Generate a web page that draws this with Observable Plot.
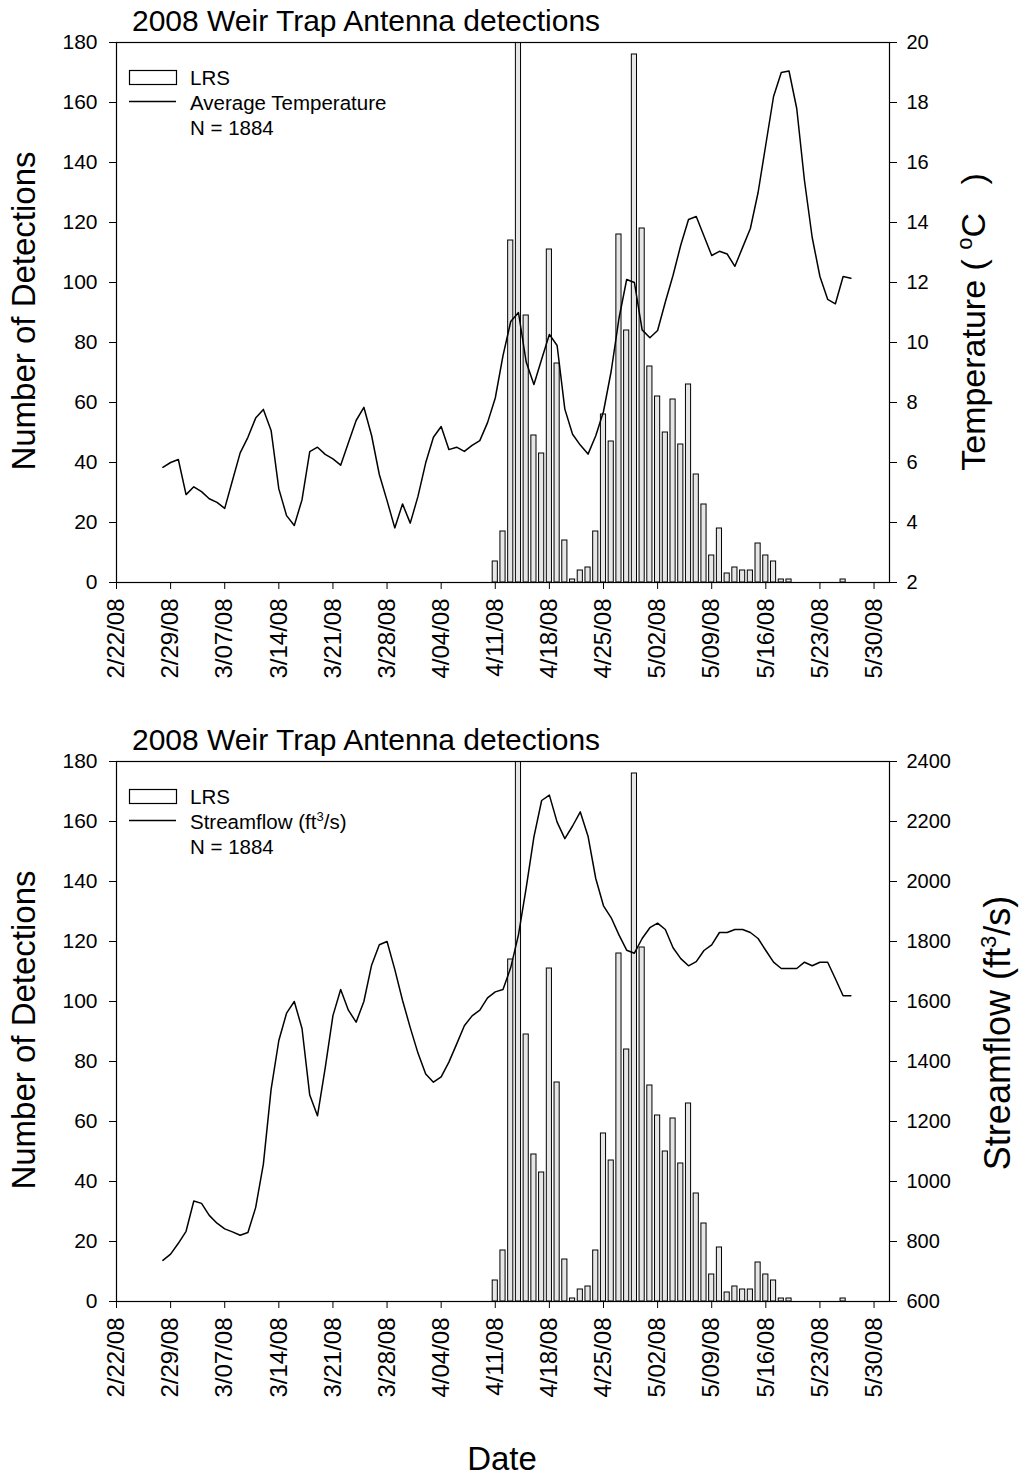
<!DOCTYPE html>
<html>
<head>
<meta charset="utf-8">
<script src="https://cdn.jsdelivr.net/npm/d3@7"></script>
<script src="https://cdn.jsdelivr.net/npm/@observablehq/plot@0.6"></script>
<style>
  body { margin: 0; background: #fff; }
  #charts svg { display: block; }
</style>
</head>
<body>
<div id="charts"></div>
<script>
// ---- data ---------------------------------------------------------------
const chartTitle = "2008 Weir Trap Antenna detections";

// Daily LRS detections at the weir trap antenna (days not listed had none)
const detectionDates = [
  "2008-04-11", "2008-04-12", "2008-04-13", "2008-04-14", "2008-04-15",
  "2008-04-16", "2008-04-17", "2008-04-18", "2008-04-19", "2008-04-20",
  "2008-04-21", "2008-04-22", "2008-04-23", "2008-04-24", "2008-04-25",
  "2008-04-26", "2008-04-27", "2008-04-28", "2008-04-29", "2008-04-30",
  "2008-05-01", "2008-05-02", "2008-05-03", "2008-05-04", "2008-05-05",
  "2008-05-06", "2008-05-07", "2008-05-08", "2008-05-09", "2008-05-10",
  "2008-05-11", "2008-05-12", "2008-05-13", "2008-05-14", "2008-05-15",
  "2008-05-16", "2008-05-17", "2008-05-18", "2008-05-19", "2008-05-26"
];
const detectionCounts = [
  7, 17, 114, 249, 89, 49, 43, 111, 73, 14,
  1, 4, 5, 17, 56, 47, 116, 84, 176, 118,
  72, 62, 50, 61, 46, 66, 36, 26, 9, 18,
  3, 5, 4, 4, 13, 9, 7, 1, 1, 1
];

// Daily series, one value per day starting on this date
const seriesStart = "2008-02-28";

// Average water temperature (°C)
const avgTemperature = [
  5.84, 6.0,
  6.1, 4.93, 5.19, 5.03, 4.79, 4.67, 4.47, 5.4, 6.32, 6.84,
  7.48, 7.77, 7.07, 5.12, 4.23, 3.9, 4.76, 6.36, 6.51, 6.27,
  6.12, 5.91, 6.66, 7.4, 7.84, 6.9, 5.6, 4.73, 3.82, 4.62, 3.98,
  4.87, 5.99, 6.84, 7.2, 6.43, 6.51, 6.37, 6.57, 6.73, 7.33,
  8.15, 9.56, 10.7, 11.0, 9.35, 8.6, 9.44, 10.27, 9.9, 7.78,
  6.94, 6.58, 6.28, 6.89, 7.7, 9.05, 10.8, 12.1, 12.0, 10.42,
  10.16, 10.4, 11.35, 12.24, 13.25, 14.1, 14.2, 13.55, 12.9, 13.04,
  12.95, 12.54, 13.17, 13.8, 15.0, 16.6, 18.2, 19.0, 19.05, 17.8,
  15.4, 13.5, 12.2, 11.44, 11.29, 12.2, 12.14
];

// Streamflow (ft³/s)
const streamflow = [
  737, 758,
  794, 834, 935, 927, 887, 861, 842, 832, 821, 830,
  913, 1058, 1307, 1470, 1561, 1600, 1510, 1288, 1219, 1379,
  1553, 1640, 1571, 1531, 1600, 1721, 1789, 1800, 1707, 1604, 1513,
  1428, 1358, 1331, 1349, 1398, 1458, 1519, 1552, 1571, 1612,
  1632, 1640, 1713, 1822, 1979, 2149, 2270, 2288, 2198, 2143,
  2185, 2232, 2151, 2010, 1919, 1879, 1822, 1771, 1761, 1810,
  1846, 1861, 1840, 1779, 1743, 1719, 1733, 1770, 1789, 1830,
  1830, 1840, 1840, 1830, 1810, 1770, 1731, 1710, 1710, 1710,
  1731, 1719, 1731, 1731, 1676, 1619, 1619
];

// Axis ticks
const dateTicks = [
  "2008-02-22", "2008-02-29", "2008-03-07", "2008-03-14", "2008-03-21",
  "2008-03-28", "2008-04-04", "2008-04-11", "2008-04-18", "2008-04-25",
  "2008-05-02", "2008-05-09", "2008-05-16", "2008-05-23", "2008-05-30"
];
const dateDomain = ["2008-02-22", "2008-06-01"];
const countTicks = [0, 20, 40, 60, 80, 100, 120, 140, 160, 180];
const temperatureTicks = [2, 4, 6, 8, 10, 12, 14, 16, 18, 20];
const streamflowTicks = [600, 800, 1000, 1200, 1400, 1600, 1800, 2000, 2200, 2400];

// ---- helpers --------------------------------------------------------------
const FONT = "'Liberation Sans', Arial, Helvetica, sans-serif";
const parseDate = d3.utcParse("%Y-%m-%d");
const formatTick = d3.utcFormat("%-m/%d/%y");

const detections = detectionDates.map((d, i) => ({date: parseDate(d), count: detectionCounts[i]}));
const start = parseDate(seriesStart);
const daily = (values) => values.map((v, i) => ({date: d3.utcDay.offset(start, i), value: v}));
const totalDetections = d3.sum(detectionCounts);

// The secondary series share the detection scale (0–180) through a linear map
function linearMap(ticks) {
  const lo = ticks[0], hi = ticks[ticks.length - 1];
  const k = (hi - lo) / 180;
  return {
    toY: (v) => (v - lo) / k,
    fromY: (y) => Math.round(lo + y * k)
  };
}

function panel({rows, rightTicks, height, legendLabel, rightTitle, rightTitleX, rightTitleY, rightTitleSize, showDate}) {
  const map = linearMap(rightTicks);
  const svg = Plot.plot({
    width: 1023,
    height,
    marginTop: 42,
    marginBottom: height - 582,
    marginLeft: 116,
    marginRight: 1023 - 889,
    style: {fontFamily: FONT, color: "black", background: "white", overflow: "visible"},
    x: {type: "utc", domain: dateDomain.map(parseDate)},
    y: {domain: [0, 180]},
    marks: [
      Plot.rect(detections, {
        x1: (d) => d3.utcHour.offset(d.date, -8),
        x2: (d) => d3.utcHour.offset(d.date, 8),
        y1: 0,
        y2: "count",
        fill: "#e6e6e6",
        stroke: "black",
        strokeWidth: 1,
        clip: true
      }),
      Plot.line(rows, {x: "date", y: (d) => map.toY(d.value), stroke: "black", strokeWidth: 1.5}),
      Plot.frame({stroke: "black", strokeWidth: 1.2}),
      Plot.axisY({anchor: "left", ticks: countTicks, tickSize: 7, tickPadding: 12, fontSize: 21, label: null}),
      Plot.axisY({
        anchor: "right",
        ticks: rightTicks.map(map.toY),
        tickFormat: (y) => String(map.fromY(y)),
        tickSize: 7,
        tickPadding: 10,
        fontSize: 20,
        label: null
      }),
      Plot.axisX({
        ticks: dateTicks.map(parseDate),
        tickFormat: formatTick,
        tickRotate: -90,
        tickSize: 7,
        tickPadding: 9,
        fontSize: 24,
        label: null
      })
    ]
  });

  const g = d3.select(svg).append("g")
    .attr("font-family", FONT)
    .attr("fill", "black")
    .attr("text-anchor", "start")
    .style("white-space", "pre");

  // title
  g.append("text").attr("x", 132).attr("y", 31).attr("font-size", 30).text(chartTitle);

  // left axis title
  g.append("text")
    .attr("transform", "translate(35,311) rotate(-90)")
    .attr("text-anchor", "middle")
    .attr("font-size", 33)
    .text("Number of Detections");

  // right axis title with superscript
  const rt = g.append("text")
    .attr("transform", `translate(${rightTitleX},${rightTitleY}) rotate(-90)`)
    .attr("text-anchor", "middle")
    .attr("font-size", rightTitleSize);
  rightTitle(rt);

  // legend
  g.append("rect").attr("x", 129.5).attr("y", 70.5).attr("width", 47).attr("height", 14)
    .attr("fill", "white").attr("stroke", "black").attr("stroke-width", 1.2);
  g.append("line").attr("x1", 129).attr("x2", 176).attr("y1", 101.5).attr("y2", 101.5)
    .attr("stroke", "black").attr("stroke-width", 1.5);
  g.append("text").attr("x", 190).attr("y", 85).attr("font-size", 20.5).text("LRS");
  const ll = g.append("text").attr("x", 190).attr("y", 110).attr("font-size", 20.5);
  legendLabel(ll);
  g.append("text").attr("x", 190).attr("y", 135).attr("font-size", 20.5).text(`N = ${totalDetections}`);

  if (showDate) {
    g.append("text").attr("x", 502).attr("y", 751).attr("text-anchor", "middle")
      .attr("font-size", 33).text("Date");
  }
  return svg;
}

const container = document.getElementById("charts");

container.append(panel({
  rows: daily(avgTemperature),
  rightTicks: temperatureTicks,
  height: 719,
  legendLabel: (t) => t.text("Average Temperature"),
  rightTitle: (t) => {
    t.append("tspan").text("Temperature ( ");
    t.append("tspan").attr("font-size", 22).attr("dy", -13).text("o");
    t.append("tspan").attr("dy", 13).text("C   )");
  },
  rightTitleX: 985,
  rightTitleY: 322,
  rightTitleSize: 34,
  showDate: false
}));

container.append(panel({
  rows: daily(streamflow),
  rightTicks: streamflowTicks,
  height: 758,
  legendLabel: (t) => {
    t.append("tspan").text("Streamflow (ft");
    t.append("tspan").attr("font-size", 13).attr("dy", -8).text("3");
    t.append("tspan").attr("dy", 8).text("/s)");
  },
  rightTitle: (t) => {
    t.append("tspan").text("Streamflow (ft");
    t.append("tspan").attr("font-size", 22).attr("dy", -14).text("3");
    t.append("tspan").attr("dy", 14).text("/s)");
  },
  rightTitleX: 1010,
  rightTitleY: 314,
  rightTitleSize: 36,
  showDate: true
}));
</script>
</body>
</html>
